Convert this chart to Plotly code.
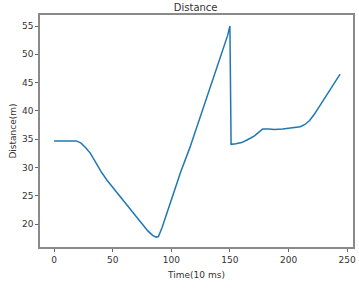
import plotly.graph_objects as go

time = [0, 10, 19, 23, 27, 31, 35, 40, 45, 50, 55, 60, 65, 70, 75, 80, 84, 87, 89, 92, 96, 101, 108, 116, 123, 130, 137, 144, 148, 150,
        151, 155, 160, 165, 171, 175, 178, 183, 188, 195, 200, 205, 210, 214, 218, 222, 226, 230, 234, 238, 241, 244]
distance = [34.7, 34.7, 34.7, 34.3, 33.5, 32.5, 31.0, 29.3, 27.8, 26.5, 25.3, 24.1, 22.8, 21.3, 20.0, 18.8, 18.0, 17.7, 17.8, 19.3, 21.8, 25.0, 29.2, 33.6, 37.9, 42.2, 46.6, 51.0, 53.3, 55.0,
            34.1, 34.2, 34.4, 34.9, 35.6, 36.3, 36.8, 36.8, 36.7, 36.8, 36.9, 37.0, 37.2, 37.6, 38.3, 39.4, 40.7, 42.0, 43.2, 44.6, 45.5, 46.5]

x_ticks = [0, 50, 100, 150, 200, 250]
y_ticks = [20, 25, 30, 35, 40, 45, 50, 55]

fig = go.Figure()
fig.add_trace(go.Scatter(x=time, y=distance, mode="lines",
                         line=dict(color="#1f77b4", width=1.5)))

font = dict(family="DejaVu Sans", size=9, color="#333333")
axis_common = dict(showgrid=False, zeroline=False, showline=True, mirror=True,
                   linecolor="#8a8a8a", linewidth=1.5, ticks="outside", ticklen=3,
                   tickcolor="#666666", tickfont=font, automargin=False)

fig.update_layout(
    width=359, height=289,
    margin=dict(l=40, r=6, t=15, b=42),
    paper_bgcolor="white", plot_bgcolor="white",
    showlegend=False,
    title=dict(text="Distance", x=0.545, xanchor="center", y=0.975, yanchor="middle",
               font=dict(family="DejaVu Sans", size=10, color="#333333")),
    xaxis=dict(range=[-12, 255], tickvals=x_ticks,
               title=dict(text="Time(10 ms)", font=font, standoff=8), **axis_common),
    yaxis=dict(range=[15.95, 56.95], tickvals=y_ticks,
               title=dict(text="Distance(m)", font=font, standoff=4), **axis_common),
)

fig.write_html("out.html", config={"displayModeBar": False},
               post_script="document.body.style.margin='0';document.body.style.overflow='hidden';")
